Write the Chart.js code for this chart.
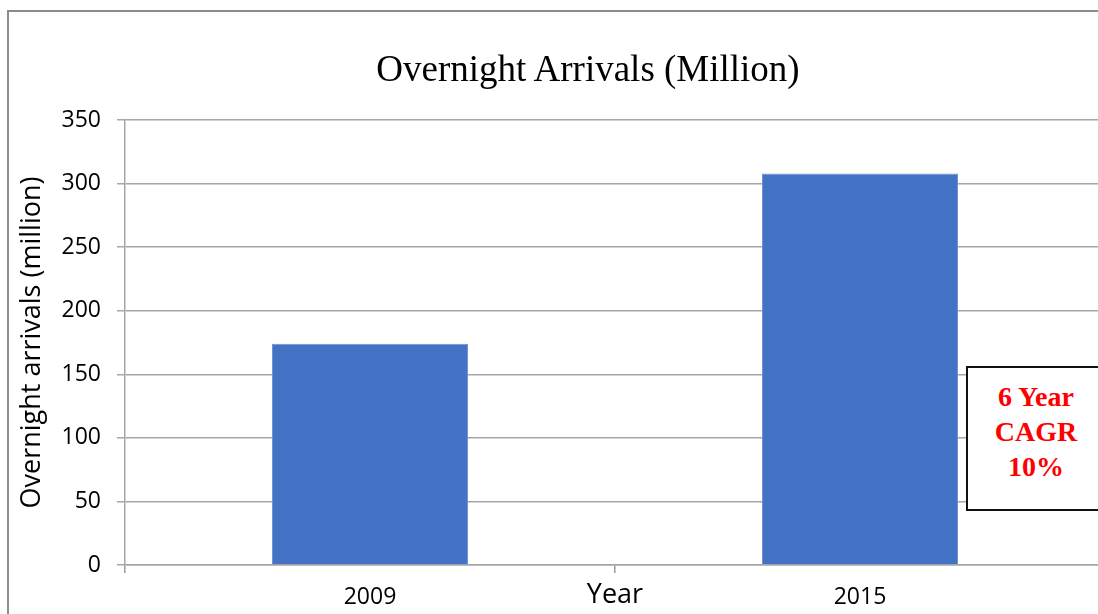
<!DOCTYPE html>
<html>
<head>
<meta charset="utf-8">
<script src="https://cdn.jsdelivr.net/npm/chart.js@4"></script>
<style>
  html, body { margin: 0; padding: 0; background: #fff; width: 1098px; height: 614px; overflow: hidden; }
  #frame { position: absolute; left: 7px; top: 10px; width: 1200px; height: 700px;
           border-left: 2px solid #8c8c8c; border-top: 2px solid #8c8c8c; }
  #wrap { position: absolute; left: 0; top: 0; width: 1120px; height: 614px; }
  #title { position: absolute; left: 588px; top: 47px; transform: translateX(-50%); white-space: nowrap;
           font-family: "Liberation Serif", serif; font-size: 37px; line-height: 44px; color: #000; }
  #cagr { position: absolute; left: 966px; top: 366px; width: 140px; height: 145px; background: #fff;
          border: 2px solid #111; box-sizing: border-box; text-align: center;
          font-family: "Liberation Serif", serif; font-weight: bold; font-size: 28px; line-height: 35px;
          color: #ff0000; padding-top: 11px; }
</style>
</head>
<body>
<div id="frame"></div>
<div id="wrap"><canvas id="chart" width="1120" height="614"></canvas></div>
<div id="title">Overnight Arrivals (Million)</div>
<div id="cagr">6 Year<br>CAGR<br>10%</div>
<script>
// data
const years = ["2009", "2015"];
const arrivals = [174, 308];
const yMax = 350;
const yStep = 50;

const sans = "'Open Sans', Lato, sans-serif";

document.addEventListener("DOMContentLoaded", () => {
  const ctx = document.getElementById("chart");
  new Chart(ctx, {
    type: "bar",
    data: {
      labels: years,
      datasets: [{
        label: "Overnight arrivals (million)",
        data: arrivals,
        backgroundColor: "#4472c4",
        borderColor: "#6f93d6",
        borderWidth: 1,
        categoryPercentage: 1,
        barPercentage: 0.4
      }]
    },
    options: {
      responsive: false,
      animation: false,
      layout: { padding: { top: 120, right: 15, left: 0, bottom: 0 } },
      plugins: {
        legend: { display: false },
        tooltip: { enabled: false },
        title: { display: false }
      },
      scales: {
        x: {
          afterFit: (s) => { s.height = 49; },
          grid: { display: true, drawOnChartArea: false, drawTicks: true, tickLength: 8, offset: true, color: "#999", lineWidth: 1.5 },
          border: { display: true, color: "#a6a6a6", width: 1.5 },
          ticks: { color: "#000", font: { family: sans, size: 23 }, padding: 11, maxRotation: 0 },
          title: { display: true, text: "Year", color: "#000", font: { family: sans, size: 27 }, padding: { top: 0, bottom: 2 } }
        },
        y: {
          min: 0,
          max: yMax,
          afterFit: (s) => { s.width = 125; },
          grid: { color: "#a6a6a6", lineWidth: 1.5, tickLength: 8 },
          border: { display: true, color: "#a6a6a6", width: 1.5 },
          ticks: { stepSize: yStep, color: "#000", font: { family: sans, size: 23 }, padding: 16 },
          title: { display: true, text: "Overnight arrivals (million)", color: "#000", font: { family: sans, size: 27 }, padding: { top: 16, bottom: 0 } }
        }
      }
    }
  });
});
</script>
</body>
</html>
